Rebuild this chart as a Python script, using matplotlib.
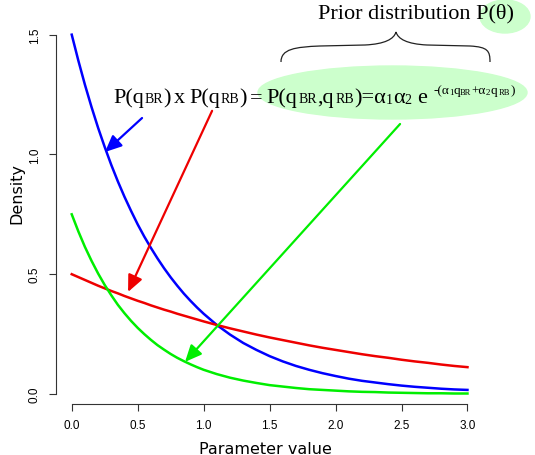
import matplotlib
matplotlib.use("Agg")
import matplotlib.pyplot as plt
from matplotlib.patches import Ellipse, FancyArrowPatch, PathPatch
from matplotlib.path import Path

# values
param = [0.0, 0.05, 0.1, 0.15, 0.2, 0.25, 0.3, 0.35, 0.4, 0.45, 0.5,
         0.55, 0.6, 0.65, 0.7, 0.75, 0.8, 0.85, 0.9, 0.95, 1.0,
         1.1, 1.2, 1.3, 1.4, 1.5, 1.6, 1.7, 1.8, 1.9, 2.0,
         2.1, 2.2, 2.3, 2.4, 2.5, 2.6, 2.7, 2.8, 2.9, 3.0]
dens_br = [1.500, 1.392, 1.291, 1.198, 1.111, 1.031, 0.956, 0.887, 0.823, 0.764, 0.708,
           0.657, 0.610, 0.566, 0.525, 0.487, 0.452, 0.419, 0.389, 0.361, 0.335,
           0.288, 0.248, 0.213, 0.184, 0.158, 0.136, 0.117, 0.101, 0.087, 0.075,
           0.064, 0.055, 0.048, 0.041, 0.035, 0.030, 0.026, 0.022, 0.019, 0.017]
dens_rb = [0.500, 0.488, 0.476, 0.464, 0.452, 0.441, 0.430, 0.420, 0.409, 0.399, 0.389,
           0.380, 0.370, 0.361, 0.352, 0.344, 0.335, 0.327, 0.319, 0.311, 0.303,
           0.288, 0.274, 0.261, 0.248, 0.236, 0.225, 0.214, 0.203, 0.193, 0.184,
           0.175, 0.166, 0.158, 0.151, 0.143, 0.136, 0.130, 0.123, 0.117, 0.112]
dens_joint = [0.750, 0.679, 0.614, 0.556, 0.503, 0.455, 0.412, 0.372, 0.337, 0.305, 0.276,
              0.250, 0.226, 0.204, 0.185, 0.167, 0.151, 0.137, 0.124, 0.112, 0.101,
              0.083, 0.068, 0.056, 0.046, 0.037, 0.031, 0.025, 0.020, 0.017, 0.014,
              0.011, 0.009, 0.008, 0.006, 0.005, 0.004, 0.003, 0.003, 0.002, 0.002]
xticks = [0.0, 0.5, 1.0, 1.5, 2.0, 2.5, 3.0]
yticks = [0.0, 0.5, 1.0, 1.5]

W, H = 535, 456


def fx(x):
    return x / W


def fy(y):
    return 1 - y / H


fig = plt.figure(figsize=(W / 100, H / 100), dpi=100)
ax = fig.add_axes([fx(55.9), fy(405), 427.4 / W, 383 / H])
ax.set_xlim(-0.12, 3.12)
ax.set_ylim(-0.0418, 1.557)

ax.plot(param, dens_br, color='#0000ff', lw=1.8, zorder=3)
ax.plot(param, dens_rb, color='#ee0000', lw=1.8, zorder=3)
ax.plot(param, dens_joint, color='#00ee00', lw=1.8, zorder=3)

# R style axes
for s in ['top', 'right']:
    ax.spines[s].set_visible(False)
ax.spines['left'].set_bounds(0, 1.5)
ax.spines['bottom'].set_bounds(0, 3)
for s in ['left', 'bottom']:
    ax.spines[s].set_linewidth(0.8)
    ax.spines[s].set_color('#333333')
ax.set_xticks(xticks)
ax.set_xticklabels(['%.1f' % v for v in xticks], family='Liberation Sans', fontsize=8.5)
ax.set_yticks(yticks)
ax.set_yticklabels(['%.1f' % v for v in yticks], family='Liberation Sans', fontsize=8.5,
                   rotation=90, va='center')
ax.tick_params(length=5, width=0.8, color='#333333', pad=6)

fig.text(fx(265.5), fy(454), 'Parameter value', ha='center', va='baseline', fontsize=11.5)
fig.text(fx(24), fy(193), 'Density', ha='right', va='center', rotation=90, fontsize=11.5)

# green highlight ellipses
ax.add_patch(Ellipse((fx(392.5), fy(93.5)), 269 / W, 53 / H, transform=fig.transFigure,
                     color='#ccffcc', clip_on=False, zorder=1))
ax.add_patch(Ellipse((fx(505), fy(17.5)), 50 / W, 33 / H, transform=fig.transFigure,
                     color='#ccffcc', clip_on=False, zorder=1))

# curly brace
pts = [(281, 63), (281, 50), (295, 48), (320, 47), (365, 46),
       (385, 45), (394, 40), (396, 33), (398, 40), (407, 45), (427, 46),
       (470, 47), (488, 48), (490, 52), (490, 63)]
codes = [Path.MOVETO, Path.CURVE4, Path.CURVE4, Path.CURVE4, Path.LINETO,
         Path.CURVE4, Path.CURVE4, Path.CURVE4, Path.CURVE4, Path.CURVE4, Path.CURVE4,
         Path.LINETO, Path.CURVE4, Path.CURVE4, Path.CURVE4]
brace = Path([(fx(a), fy(b)) for a, b in pts], codes)
ax.add_patch(PathPatch(brace, transform=fig.transFigure, fill=False, lw=0.9,
                       edgecolor='#222222', clip_on=False, zorder=2))

fig.text(fx(318), fy(18.5), 'Prior distribution P(θ)', va='baseline',
         fontsize=16, family='Liberation Serif', zorder=5)

# formula, written piece by piece: (text, size, shift down px, gap after px)
renderer = fig.canvas.get_renderer()
pieces = [('P(q', 16, 0, 1), ('BR', 10, 0, 0), (')', 16, 0, 3), ('x', 16, 0, 4),
          ('P(q', 16, 0, 1), ('RB', 10, 0, 0), (')', 16, 0, 3), ('=', 16, 0, 4),
          ('P(q', 16, 0, 1), ('BR', 10, 0, 0), (',q', 16, 0, 2), ('RB', 10, 0, 0),
          (')=α', 16, 0, 0), ('1', 10, 1, 0), ('α', 16, 0, 0), ('2', 10, 1, 6),
          ('e', 16, 0, 6),
          ('-(α', 9.5, -9, 0), ('1', 6.5, -8, 0), ('q', 9.5, -9, 0), ('BR', 6, -8, 0),
          ('+α', 9.5, -9, 0), ('2', 6.5, -8, 0), ('q', 9.5, -9, 2), ('RB', 6, -8, 0),
          (')', 9.5, -9, 0)]
cx = 113
for txt, size, dy, gap in pieces:
    t = fig.text(fx(cx), fy(103 + dy), txt, va='baseline', ha='left', fontsize=size,
                 family='Liberation Serif', zorder=5)
    cx += t.get_window_extent(renderer).width + gap

# arrows
arrows = [((0.533, 1.152), (0.252, 1.010), '#0000ff'),
          ((1.064, 1.182), (0.427, 0.426), '#ee0000'),
          ((2.489, 1.127), (0.859, 0.134), '#00ee00')]
for start, tip, col in arrows:
    ax.add_patch(FancyArrowPatch(start, tip, arrowstyle='-|>,head_length=1.0,head_width=0.45',
                                 mutation_scale=10, color=col, lw=1.6, shrinkA=0, shrinkB=0,
                                 clip_on=False, zorder=4))

fig.savefig('out.png', dpi=100)
